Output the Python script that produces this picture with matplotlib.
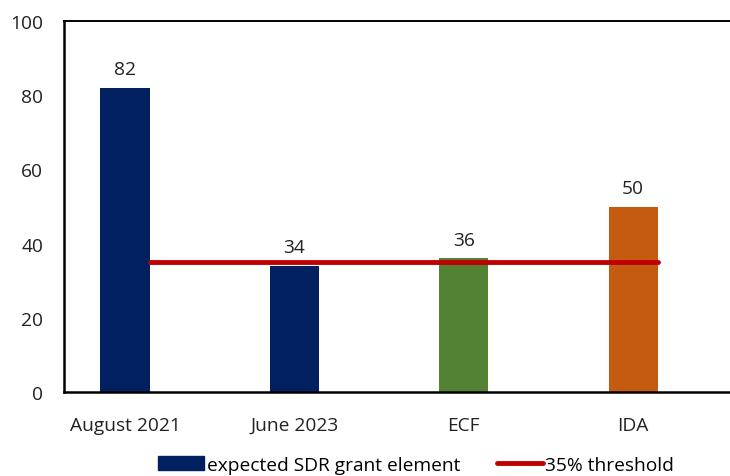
import matplotlib
matplotlib.use("Agg")
import matplotlib.pyplot as plt
import numpy as np
from matplotlib.patches import Patch
from matplotlib.lines import Line2D

categories = ["August 2021", "June 2023", "ECF", "IDA"]
grant_element = [82, 34, 36, 50]
threshold = [35, 35, 35, 35]
bar_colors = ["#002060", "#002060", "#548235", "#C55A11"]
yticks = [0, 20, 40, 60, 80, 100]

plt.rcParams['font.family'] = ['Open Sans', 'DejaVu Sans']
FS = 13.8

fig = plt.figure(figsize=(7.3, 4.77), dpi=100)
ax = fig.add_axes([64/730, 1-393/477, 1-64/730, (393-22)/477])

x = np.arange(len(categories))
width = 0.29
bars = ax.bar(x, grant_element, width=width, color=bar_colors, zorder=2)
for b, v in zip(bars, grant_element):
    ax.annotate(f"{v}", (b.get_x() + b.get_width()/2, v), xytext=(0, 7),
                textcoords="offset points", ha="center", va="bottom",
                fontsize=FS, color="#222222")
ax.plot(x + width/2, threshold, color="#C00000", lw=3.5, solid_capstyle="round", zorder=3)

ax.set_ylim(0, 100)
ax.set_yticks(yticks)
ax.set_xlim(-0.36, 3.572)
ax.set_xticks(x)
ax.set_xticklabels(categories)
ax.tick_params(axis="both", length=0, labelsize=FS, colors="#222222")
ax.tick_params(axis="x", pad=17)
ax.tick_params(axis="y", pad=15)
for s in ["left", "bottom"]:
    ax.spines[s].set_linewidth(1.8)
    ax.spines[s].set_color("black")
ax.spines["top"].set_linewidth(1.4)
ax.spines["right"].set_visible(False)

handles = [Patch(facecolor="#002060", edgecolor="#002060"),
           Line2D([0], [0], color="#C00000", lw=3.5, solid_capstyle="round")]
fig.legend(handles, ["expected SDR grant element", "35% threshold"],
           loc="center", bbox_to_anchor=(0.57, 0.023), ncol=2, frameon=False,
           fontsize=FS, handlelength=2.4, handleheight=0.75, handletextpad=0.15,
           columnspacing=1.9)

fig.savefig("out.png", dpi=100)
